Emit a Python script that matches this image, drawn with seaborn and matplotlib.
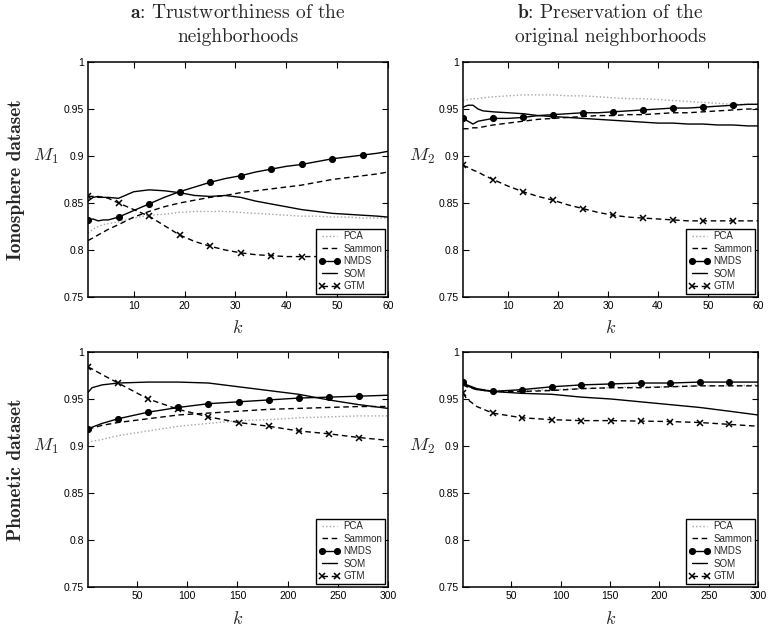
import numpy as np
import pandas as pd
import seaborn as sns
import matplotlib
matplotlib.use('Agg')
import matplotlib.pyplot as plt

# --- data -----------------------------------------------------------------
methods = ['PCA', 'Sammon', 'NMDS', 'SOM', 'GTM']

# Ionosphere dataset, k = 1..60
k_ion = [1, 2, 3, 4, 5, 7, 10, 13, 16, 19, 22, 25, 28, 31, 34, 37, 40, 43, 46, 49, 52, 55, 58, 60]
ion_marks = [1, 7, 13, 19, 25, 31, 37, 43, 49, 55]

ion_m1_pca = [0.818, 0.822, 0.825, 0.827, 0.828, 0.830, 0.834, 0.837, 0.838, 0.840, 0.841, 0.841,
              0.841, 0.840, 0.839, 0.838, 0.837, 0.836, 0.836, 0.835, 0.835, 0.834, 0.834, 0.834]
ion_m1_sammon = [0.810, 0.813, 0.816, 0.819, 0.822, 0.827, 0.835, 0.841, 0.846, 0.850, 0.853, 0.856,
                 0.858, 0.861, 0.863, 0.865, 0.867, 0.869, 0.872, 0.875, 0.877, 0.879, 0.881, 0.883]
ion_m1_nmds = [0.832, 0.833, 0.831, 0.832, 0.832, 0.835, 0.842, 0.849, 0.856, 0.862, 0.867, 0.872,
               0.876, 0.879, 0.883, 0.886, 0.889, 0.891, 0.894, 0.897, 0.899, 0.901, 0.903, 0.905]
ion_m1_som = [0.852, 0.856, 0.857, 0.856, 0.856, 0.855, 0.862, 0.864, 0.863, 0.861, 0.858, 0.857,
              0.858, 0.856, 0.852, 0.849, 0.846, 0.843, 0.841, 0.839, 0.838, 0.837, 0.836, 0.835]
ion_m1_gtm = [0.857, 0.857, 0.856, 0.856, 0.855, 0.850, 0.843, 0.836, 0.826, 0.816, 0.809, 0.804,
              0.800, 0.797, 0.795, 0.794, 0.793, 0.793, 0.793, 0.793, 0.793, 0.793, 0.793, 0.793]

ion_m2_pca = [0.959, 0.960, 0.961, 0.961, 0.962, 0.963, 0.964, 0.965, 0.965, 0.965, 0.964, 0.964,
              0.963, 0.962, 0.961, 0.961, 0.960, 0.959, 0.958, 0.957, 0.956, 0.955, 0.955, 0.955]
ion_m2_sammon = [0.929, 0.929, 0.930, 0.930, 0.931, 0.933, 0.935, 0.937, 0.939, 0.940, 0.941, 0.942,
                 0.943, 0.943, 0.944, 0.944, 0.945, 0.946, 0.946, 0.947, 0.948, 0.949, 0.950, 0.950]
ion_m2_nmds = [0.940, 0.937, 0.934, 0.937, 0.938, 0.940, 0.940, 0.941, 0.943, 0.944, 0.945, 0.946,
               0.946, 0.947, 0.948, 0.949, 0.950, 0.951, 0.951, 0.952, 0.953, 0.954, 0.955, 0.955]
ion_m2_som = [0.952, 0.954, 0.954, 0.950, 0.948, 0.947, 0.946, 0.945, 0.943, 0.942, 0.941, 0.940,
              0.939, 0.938, 0.937, 0.936, 0.935, 0.935, 0.934, 0.934, 0.933, 0.933, 0.932, 0.932]
ion_m2_gtm = [0.890, 0.888, 0.885, 0.883, 0.880, 0.875, 0.868, 0.862, 0.857, 0.853, 0.848, 0.844,
              0.840, 0.837, 0.835, 0.834, 0.833, 0.832, 0.831, 0.831, 0.831, 0.831, 0.831, 0.831]

# Phonetic dataset, k = 1..300
k_pho = [1, 5, 15, 31, 61, 91, 121, 151, 181, 211, 241, 271, 300]
pho_marks = [1, 31, 61, 91, 121, 151, 181, 211, 241, 271]

pho_m1_pca = [0.903, 0.905, 0.907, 0.911, 0.916, 0.921, 0.924, 0.927, 0.928, 0.930, 0.931, 0.932, 0.932]
pho_m1_sammon = [0.918, 0.919, 0.922, 0.925, 0.929, 0.933, 0.935, 0.937, 0.939, 0.940, 0.941, 0.942, 0.942]
pho_m1_nmds = [0.918, 0.920, 0.924, 0.929, 0.936, 0.941, 0.945, 0.947, 0.949, 0.951, 0.952, 0.953, 0.954]
pho_m1_som = [0.957, 0.962, 0.965, 0.967, 0.968, 0.968, 0.967, 0.963, 0.959, 0.955, 0.949, 0.944, 0.940]
pho_m1_gtm = [0.984, 0.982, 0.976, 0.967, 0.950, 0.939, 0.931, 0.925, 0.921, 0.916, 0.913, 0.909, 0.906]

pho_m2_pca = [0.966, 0.964, 0.961, 0.959, 0.959, 0.960, 0.961, 0.962, 0.963, 0.963, 0.964, 0.964, 0.965]
pho_m2_sammon = [0.965, 0.963, 0.960, 0.958, 0.958, 0.959, 0.961, 0.962, 0.962, 0.963, 0.964, 0.964, 0.964]
pho_m2_nmds = [0.968, 0.965, 0.961, 0.958, 0.960, 0.963, 0.965, 0.966, 0.967, 0.967, 0.968, 0.968, 0.968]
pho_m2_som = [0.967, 0.964, 0.960, 0.958, 0.956, 0.955, 0.952, 0.950, 0.947, 0.944, 0.941, 0.937, 0.933]
pho_m2_gtm = [0.956, 0.950, 0.942, 0.935, 0.930, 0.928, 0.927, 0.927, 0.9265, 0.926, 0.925, 0.923, 0.921]

titles = [r'$\mathbf{a}$: Trustworthiness of the' + '\nneighborhoods',
          r'$\mathbf{b}$: Preservation of the' + '\noriginal neighborhoods']
row_labels = ['Ionosphere dataset', 'Phonetic dataset']
y_labels = [r'$M_1$', r'$M_2$']
y_ticks = [0.75, 0.8, 0.85, 0.9, 0.95, 1]
y_tick_labels = ['0.75', '0.8', '0.85', '0.9', '0.95', '1']
ion_xticks = [10, 20, 30, 40, 50, 60]
pho_xticks = [50, 100, 150, 200, 250, 300]

# --- styling ---------------------------------------------------------------
sns.set_theme(style='ticks')
plt.rcParams['font.family'] = ['Liberation Sans', 'DejaVu Sans']
plt.rcParams['mathtext.fontset'] = 'cm'

styles = {
    'PCA':    dict(color='#a6a6a6', linestyle=(0, (1, 1.6)), linewidth=1.0),
    'Sammon': dict(color='black', linestyle=(0, (4, 2.6)), linewidth=1.0),
    'NMDS':   dict(color='black', linestyle='-', linewidth=1.0, marker='o', markersize=4.3,
                   markerfacecolor='black', markeredgecolor='black', markeredgewidth=0.8),
    'SOM':    dict(color='black', linestyle='-', linewidth=1.0),
    'GTM':    dict(color='black', linestyle=(0, (4, 2.6)), linewidth=1.0, marker='x', markersize=5,
                   markeredgecolor='black', markeredgewidth=1.1),
}

panels = [
    (k_ion, ion_marks, [ion_m1_pca, ion_m1_sammon, ion_m1_nmds, ion_m1_som, ion_m1_gtm], (1, 60), ion_xticks),
    (k_ion, ion_marks, [ion_m2_pca, ion_m2_sammon, ion_m2_nmds, ion_m2_som, ion_m2_gtm], (1, 60), ion_xticks),
    (k_pho, pho_marks, [pho_m1_pca, pho_m1_sammon, pho_m1_nmds, pho_m1_som, pho_m1_gtm], (1, 300), pho_xticks),
    (k_pho, pho_marks, [pho_m2_pca, pho_m2_sammon, pho_m2_nmds, pho_m2_som, pho_m2_gtm], (1, 300), pho_xticks),
]

W, H = 768, 627
fig = plt.figure(figsize=(W / 100, H / 100), dpi=100)

lefts = [88, 463]
widths = [300, 295]
tops = [62, 352]
height = 235

for i, (k, marks, series, xlim, xticks) in enumerate(panels):
    row, col = divmod(i, 2)
    ax = fig.add_axes([lefts[col] / W, 1 - (tops[row] + height) / H, widths[col] / W, height / H])
    for name, vals in zip(methods, series):
        df = pd.DataFrame({'k': k, 'M': vals})
        kw = dict(styles[name])
        if 'marker' in kw:
            kw['markevery'] = list(np.flatnonzero(np.isin(k, marks)))
        sns.lineplot(data=df, x='k', y='M', ax=ax, label=name, **kw)

    ax.set_xlim(*xlim)
    ax.set_ylim(0.75, 1)
    ax.set_xticks(xticks)
    ax.set_yticks(y_ticks)
    ax.set_yticklabels(y_tick_labels)
    ax.tick_params(direction='in', top=True, right=True, length=4, width=0.8,
                   labelsize=7.5, pad=3, colors='black')
    for sp in ax.spines.values():
        sp.set_visible(True)
        sp.set_linewidth(1.1)
        sp.set_color('black')

    ax.set_xlabel(r'$k$', fontsize=13)
    ax.xaxis.set_label_coords(0.5, -0.10)
    ax.set_ylabel(y_labels[col], fontsize=13.5, rotation=0, va='center', ha='center')
    ax.yaxis.set_label_coords(-0.14, 0.6)

    leg = ax.legend(loc='lower right', fontsize=7, frameon=True, fancybox=False,
                    edgecolor='black', framealpha=1, borderaxespad=0.3, borderpad=0.3,
                    handlelength=2.2, handletextpad=0.3, labelspacing=0.25, numpoints=2)
    leg.get_frame().set_linewidth(1.0)

for col in range(2):
    cx = (lefts[col] + widths[col] / 2) / W
    fig.text(cx, 1 - 4 / H, titles[col], ha='center', va='top', fontsize=14,
             family='cmr10', linespacing=1.4)

for row in range(2):
    cy = 1 - (tops[row] + height / 2) / H
    fig.text(16 / W, cy, row_labels[row], rotation=90, ha='center', va='center',
             fontsize=14, family='cmb10')

fig.savefig('out.png', dpi=100)
